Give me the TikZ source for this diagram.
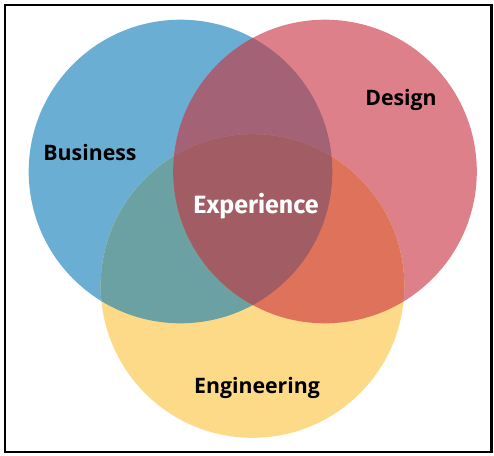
\documentclass[tikz,border=0pt]{standalone}
\usepackage{fontspec}
\setmainfont{Open Sans}
\newfontfamily\expfont{Fira Sans}
\definecolor{cblue}{RGB}{106,175,211}
\definecolor{cred}{RGB}{222,128,137}
\definecolor{cyellow}{RGB}{252,218,136}
\definecolor{cbr}{RGB}{163,98,117}
\definecolor{cby}{RGB}{108,161,163}
\definecolor{cry}{RGB}{222,114,90}
\definecolor{call}{RGB}{162,92,100}
\begin{document}
\begin{tikzpicture}[x=1pt,y=-1pt,
  lbl/.style={font=\bfseries\fontsize{21.3}{25}\selectfont, text=black, inner sep=0pt},
  explbl/.style={font=\expfont\bfseries\fontsize{25}{29}\selectfont, text=white, inner sep=0pt}]
\useasboundingbox (0,0) rectangle (494,455);
\fill[white] (0,0) rectangle (494,455);
\coordinate (B) at (180.5,171.5);
\coordinate (R) at (325,171.5);
\coordinate (Y) at (252.5,286);
\def\rad{151.8}
\fill[cblue] (B) circle (\rad);
\fill[cred] (R) circle (\rad);
\fill[cyellow] (Y) circle (\rad);
\begin{scope}\clip (B) circle (\rad); \fill[cbr] (R) circle (\rad); \end{scope}
\begin{scope}\clip (B) circle (\rad); \fill[cby] (Y) circle (\rad); \end{scope}
\begin{scope}\clip (R) circle (\rad); \fill[cry] (Y) circle (\rad); \end{scope}
\begin{scope}\clip (B) circle (\rad); \clip (R) circle (\rad); \fill[call] (Y) circle (\rad); \end{scope}
\draw[line width=2.2pt] (5,5) rectangle (491.5,452);
\node[lbl] (business) at (90,153) {Business};
\node[lbl] (design) at (401,100) {Design};
\node[lbl] (engineering) at (257,388) {Engineering};
\node[explbl] (experience) at (256,206) {Experience};
\end{tikzpicture}
\end{document}
